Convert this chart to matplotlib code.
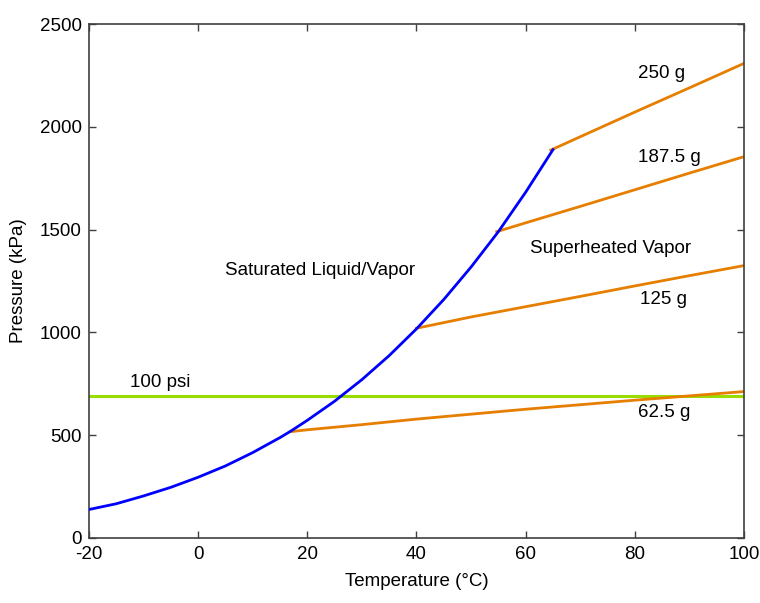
import numpy as np
import matplotlib.pyplot as plt

plt.rcParams['font.family'] = ['Liberation Sans', 'DejaVu Sans']
plt.rcParams['axes.unicode_minus'] = False

# saturated liquid/vapor curve
sat_temp = [-20, -15, -10, -5, 0, 5, 10, 15, 17, 20, 25, 30, 35, 40, 45, 50, 55, 60, 65]
sat_pres = [138, 166, 204, 246, 295, 350, 415, 488, 520, 572, 665, 770, 887, 1017, 1160, 1318, 1490, 1682, 1889]

# superheated vapor lines, by charge mass
sh_labels = ["62.5 g", "125 g", "187.5 g", "250 g"]
sh_temp = [
    [17, 20, 30, 40, 50, 60, 70, 80, 90, 100],
    [40, 50, 60, 70, 80, 90, 100],
    [54.7, 60, 70, 80, 90, 100],
    [64.6, 70, 80, 90, 100],
]
sh_pres = [
    [517, 526, 551, 578, 602, 626, 648, 670, 691, 712],
    [1020, 1075, 1125, 1175, 1226, 1276, 1325],
    [1490, 1533, 1613, 1694, 1775, 1855],
    [1887, 1952, 2072, 2190, 2309],
]
sh_label_pos = [(80.6, 608), (81, 1158), (80.6, 1853), (80.6, 2262)]

psi_100 = 689.5

fs = 13.5

fig = plt.figure(figsize=(7.6, 6.03), dpi=100)
ax = fig.add_axes([0.117, 0.108, 0.862, 0.852])

ax.axhline(psi_100, color='#99dd00', lw=2.2, zorder=1)
for t, p in zip(sh_temp, sh_pres):
    ax.plot(t, p, color='#e67e00', lw=2, zorder=2)
ax.plot(sat_temp, sat_pres, color='#0000ff', lw=2, zorder=3)

for lab, (x, y) in zip(sh_labels, sh_label_pos):
    ax.text(x, y, lab, fontsize=fs, va='center', ha='left')
ax.text(-12.5, 754, "100 psi", fontsize=fs, va='center', ha='left')
ax.text(4.9, 1303, "Saturated Liquid/Vapor", fontsize=fs, va='center', ha='left')
ax.text(60.8, 1406, "Superheated Vapor", fontsize=fs, va='center', ha='left')

ax.set_xlim(-20, 100)
ax.set_ylim(0, 2500)
ax.set_xticks(np.arange(-20, 101, 20))
ax.set_yticks(np.arange(0, 2501, 500))
ax.tick_params(direction='in', length=5, top=True, right=True, labelsize=fs,
               color='#404040', width=1)
ax.tick_params(axis='x', pad=6)
ax.tick_params(axis='y', pad=5)
for s in ax.spines.values():
    s.set_color('#404040')
    s.set_linewidth(1.2)

ax.set_xlabel("Temperature (°C)", fontsize=fs, labelpad=7)
ax.set_ylabel("Pressure (kPa)", fontsize=fs, labelpad=9)

fig.savefig("out.png", dpi=100)
